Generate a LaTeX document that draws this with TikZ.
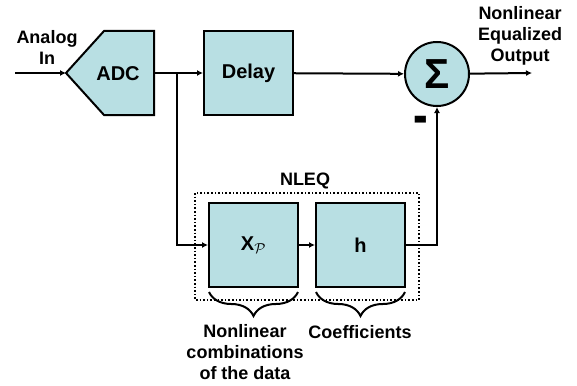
\documentclass[tikz,border=0pt]{standalone}
\usepackage{fontspec}
\usepackage{graphicx}
\setmainfont{Liberation Sans}
\usetikzlibrary{arrows.meta,decorations.pathreplacing}
\definecolor{boxcyan}{RGB}{184,223,227}
\tikzset{
  blk/.style={draw, fill=boxcyan, line width=2pt, minimum width=89pt, minimum height=84pt,
    font=\fontsize{20}{24}\selectfont\bfseries},
  lbl/.style={align=center, font=\fontsize{18}{21}\selectfont\bfseries},
  wire/.style={line width=2pt},
  arr/.style={wire, -{Latex[length=6pt,width=6pt]}},
  brc/.style={line width=2pt, decorate, decoration={brace, mirror, amplitude=24pt}},
}

\begin{document}
\begin{tikzpicture}[x=1pt, y=-1pt]
  \useasboundingbox (0,0) rectangle (577,385);

  % converter
  \draw[wire, fill=boxcyan] (66,73) -- (104,31) -- (154,31) -- (154,115) -- (104,115) -- cycle;
  \node[font=\fontsize{20}{24}\selectfont\bfseries] (adc) at (118,74) {ADC};
  \coordinate (in) at (15,73);
  \coordinate (adcin) at (66,73);
  \coordinate (adcout) at (154,73);
  \coordinate (branch) at (177,73);
  \coordinate (out) at (532,73);

  % blocks
  \node[blk] (delay) at (248.5,73) {Delay};
  \node[blk] (xp) at (253.5,245) {X$_{\mathcal{P}}$};
  \node[blk] (h) at (360.5,245) {h};
  \node[draw, fill=boxcyan, circle, line width=2pt, minimum size=64pt,
    inner sep=0pt, font=\fontsize{42}{42}\selectfont\bfseries] (sum) at (437,74) {Σ};

  \draw[dotted, line width=1.6pt] (195,193) rectangle (419,300);
  \node[lbl] (nleq) at (305,181) {NLEQ};

  % connections
  \draw[arr] (in) -- (adcin);
  \draw[arr] (adcout) -- (delay.west);
  \draw[arr] (branch) |- (xp.west);
  \draw[arr] (xp) -- (h);
  \draw[arr] (delay) -- (sum);
  \draw[arr] (h.east) -| (sum.south);
  \draw[arr] (sum) -- (out);

  % braces
  \draw[brc] (209,292) -- (298,292);
  \draw[brc] (316,292) -- (405,292);

  % labels
  \node[lbl] (analog) at (47,47) {Analog\\In};
  \node[lbl] (output) at (520,36) {Nonlinear\\Equalized\\Output};
  \node[font=\fontsize{44}{44}\selectfont\bfseries] (minus) at (421,125) {\scalebox{1}[1.3]{-}};
  \node[lbl] (comb) at (245,352) {Nonlinear\\combinations\\of the data};
  \node[lbl] (coef) at (360,332) {Coefficients};
\end{tikzpicture}
\end{document}
